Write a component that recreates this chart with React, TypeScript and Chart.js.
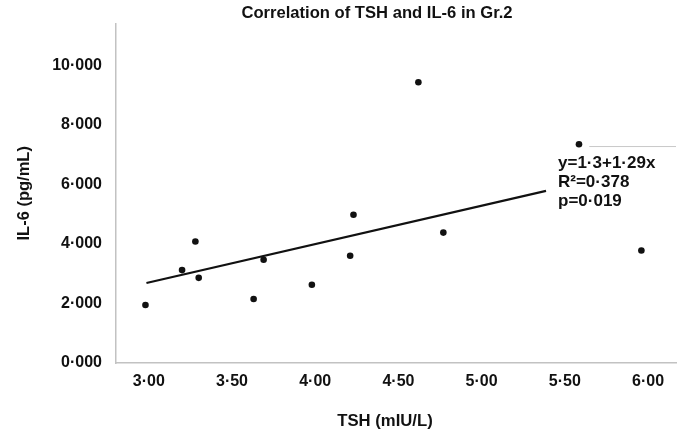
import { useEffect, useRef } from "react";
import { Chart, registerables } from "chart.js";

Chart.register(...registerables);

// TSH (mIU/L) and IL-6 (pg/mL) for each subject in group 2
const TSH = [2.98, 3.2, 3.28, 3.3, 3.63, 3.69, 3.98, 4.21, 4.23, 4.62, 4.77, 5.585, 5.96];
const IL6 = [1.95, 3.12, 4.08, 2.86, 2.15, 3.47, 2.63, 3.6, 4.98, 9.43, 4.38, 7.35, 3.78];

// fitted slope; the line runs through the centroid of the data
const SLOPE = 1.29;
const FIT_X_RANGE = [2.986, 5.387];

// thin grey guide next to the stats block
const GUIDE_Y = 7.27;
const GUIDE_X_RANGE = [5.647, 6.17];

const X_TICKS = [3, 3.5, 4, 4.5, 5, 5.5, 6];
const Y_TICKS = [0, 2, 4, 6, 8, 10];

const TITLE = "Correlation of TSH and IL-6 in Gr.2";
const X_TITLE = "TSH (mIU/L)";
const Y_TITLE = "IL-6 (pg/mL)";
const STATS_LINES = ["y=1·3+1·29x", "R²=0·378", "p=0·019"];

const FONT_FAMILY = "'Liberation Sans', Arial, Helvetica, sans-serif";
const INK = "#111111";
const AXIS_GREY = "#c2c2c2";

const mean = (a: number[]) => a.reduce((s, v) => s + v, 0) / a.length;

export default function App() {
  const canvasRef = useRef<HTMLCanvasElement | null>(null);

  useEffect(() => {
    const canvas = canvasRef.current;
    if (!canvas) return;

    const intercept = mean(IL6) - SLOPE * mean(TSH);
    const fitLine = FIT_X_RANGE.map((x) => ({ x, y: intercept + SLOPE * x }));
    const guideLine = GUIDE_X_RANGE.map((x) => ({ x, y: GUIDE_Y }));
    const points = TSH.map((x, i) => ({ x, y: IL6[i] }));

    const textLayer = {
      id: "textLayer",
      afterDraw(chart: Chart) {
        const { ctx } = chart;
        ctx.save();
        ctx.fillStyle = INK;
        ctx.textAlign = "center";
        ctx.textBaseline = "middle";
        ctx.font = `bold 16.6px ${FONT_FAMILY}`;
        ctx.fillText(TITLE, 377, 13);
        ctx.font = `bold 16.7px ${FONT_FAMILY}`;
        ctx.fillText(X_TITLE, 385, 421);

        ctx.textAlign = "left";
        ctx.textBaseline = "alphabetic";
        ctx.font = `bold 17px ${FONT_FAMILY}`;
        STATS_LINES.forEach((line, i) => {
          ctx.fillText(line, 558, 168 + i * 19);
        });
        ctx.restore();
      },
    };

    const chart = new Chart(canvas, {
      type: "scatter",
      data: {
        datasets: [
          {
            type: "line",
            data: guideLine,
            borderColor: "#c8c8c8",
            borderWidth: 1,
            pointRadius: 0,
            order: 3,
          },
          {
            type: "line",
            data: fitLine,
            borderColor: INK,
            borderWidth: 2.2,
            pointRadius: 0,
            order: 2,
          },
          {
            type: "scatter",
            data: points,
            backgroundColor: INK,
            borderColor: INK,
            pointRadius: 3.3,
            borderWidth: 0,
            order: 1,
          },
        ],
      },
      options: {
        animation: false,
        responsive: false,
        maintainAspectRatio: false,
        layout: { padding: { top: 19, right: 0, bottom: 0, left: 0 } },
        plugins: {
          legend: { display: false },
          tooltip: { enabled: false },
          title: { display: false },
        },
        scales: {
          x: {
            type: "linear",
            min: 2.803,
            max: 6.168,
            grid: { color: "transparent", drawTicks: false },
            border: { display: true, color: AXIS_GREY, width: 1.5 },
            afterBuildTicks: (scale: any) => {
              scale.ticks = X_TICKS.map((value) => ({ value }));
            },
            afterFit: (scale: any) => {
              scale.height = 71;
            },
            ticks: {
              includeBounds: false,
              padding: 9,
              color: INK,
              font: { family: FONT_FAMILY, size: 16, weight: "bold" },
              callback: (v: any) => Number(v).toFixed(2).replace(".", "·"),
            },
          },
          y: {
            type: "linear",
            min: 0,
            max: 11.4,
            grid: { color: "transparent", drawTicks: false },
            border: { display: true, color: AXIS_GREY, width: 1.5 },
            afterBuildTicks: (scale: any) => {
              scale.ticks = Y_TICKS.map((value) => ({ value }));
            },
            afterFit: (scale: any) => {
              scale.width = 116;
            },
            title: {
              display: true,
              text: Y_TITLE,
              color: INK,
              font: { family: FONT_FAMILY, size: 16.5, weight: "bold" },
              padding: { top: 15, bottom: 0 },
            },
            ticks: {
              includeBounds: false,
              padding: 14,
              color: INK,
              font: { family: FONT_FAMILY, size: 16, weight: "bold" },
              callback: (v: any) => Number(v).toFixed(3).replace(".", "·"),
            },
          },
        },
      },
      plugins: [textLayer],
    } as any);

    return () => chart.destroy();
  }, []);

  return (
    <div
      style={{
        position: "fixed",
        left: 0,
        top: 0,
        width: 680,
        height: 434,
        background: "#ffffff",
      }}
    >
      <canvas ref={canvasRef} width={680} height={434} style={{ width: 680, height: 434 }} />
    </div>
  );
}
